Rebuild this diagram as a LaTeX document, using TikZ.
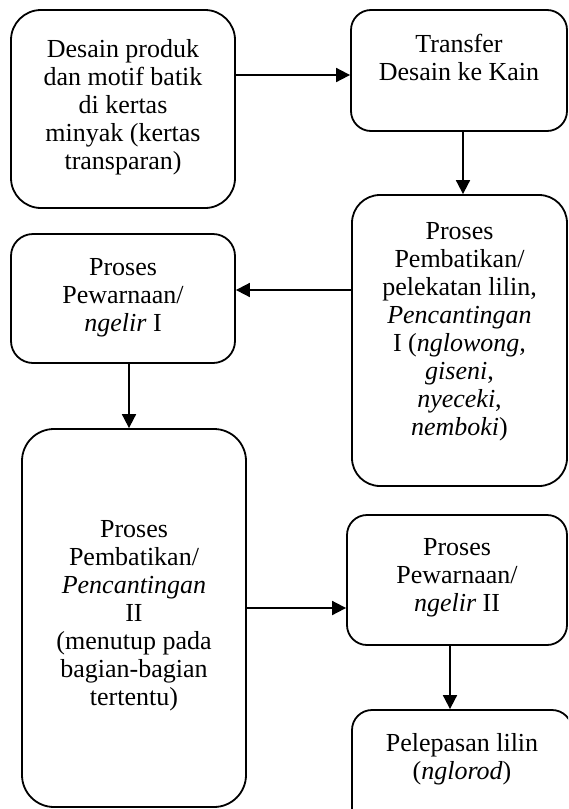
\documentclass[tikz,border=0pt]{standalone}
\usepackage{fontspec}
\setmainfont{Liberation Serif}
\usetikzlibrary{arrows.meta}
\newcommand{\bx}[4]{\parbox[c][#2pt][t]{#1pt}{\vspace*{#3pt}\centering\strut #4}}
\begin{document}
\begin{tikzpicture}[x=1pt,y=-1pt,
  box/.style={draw, line width=1.8pt, inner sep=0pt, font=\fontsize{26}{28}\selectfont},
  arr/.style={line width=1.8pt, -{Triangle[length=14pt,width=14pt]}}]
\useasboundingbox (0,0) rectangle (568,809);
\clip (0,0) rectangle (568,809);
\fill[white] (0,0) rectangle (568,809);
\node[box, rounded corners=30pt] (b1) at (123,109) {\bx{224}{198}{27.4}{Desain produk\\dan motif batik\\di kertas\\minyak (kertas\\transparan)}};
\node[box, rounded corners=20pt] (b2) at (459,70.5) {\bx{216}{121}{22.7}{Transfer\\Desain ke Kain}};
\node[box, rounded corners=28pt] (b3) at (459.5,340.5) {\bx{215}{291}{24.7}{Proses\\Pembatikan/\\pelekatan lilin,\\\textit{Pencantingan}\\I (\textit{nglowong,}\\\textit{giseni},\\\textit{nyeceki},\\\textit{nemboki})}};
\node[box, rounded corners=22pt] (b4) at (123,298.5) {\bx{224}{129}{21.4}{Proses\\Pewarnaan/\\\textit{ngelir} I}};
\node[box, rounded corners=32pt] (b5) at (134,618) {\bx{224}{378}{88.4}{Proses\\Pembatikan/\\\textit{Pencantingan}\\II\\(menutup pada\\bagian-bagian\\tertentu)}};
\node[box, rounded corners=20pt] (b6) at (457,580) {\bx{220}{130}{20.4}{Proses\\Pewarnaan/\\\textit{ngelir} II}};
\node[box, rounded corners=20pt] (b7) at (462,770) {\bx{220}{120}{22}{Pelepasan lilin\\(\textit{nglorod})}};
\coordinate (ya) at (0,75);
\coordinate (xb) at (463,0);
\coordinate (yc) at (0,290);
\coordinate (xd) at (129,0);
\coordinate (ye) at (0,608);
\coordinate (xf) at (450,0);
\draw[arr] (b1.east |- ya) -- (b2.west |- ya);
\draw[arr] (b2.south -| xb) -- (b3.north -| xb);
\draw[arr] (b3.west |- yc) -- (b4.east |- yc);
\draw[arr] (b4.south -| xd) -- (b5.north -| xd);
\draw[arr] (b5.east |- ye) -- (b6.west |- ye);
\draw[arr] (b6.south -| xf) -- (b7.north -| xf);
\end{tikzpicture}
\end{document}
